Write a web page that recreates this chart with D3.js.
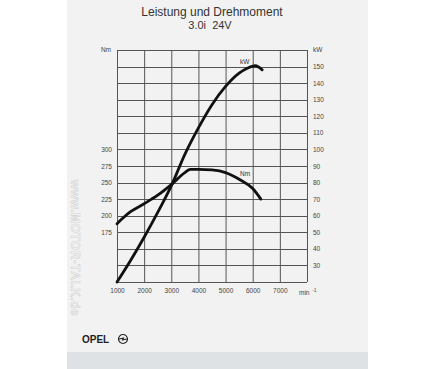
<!DOCTYPE html>
<html>
<head>
<meta charset="utf-8">
<script src="https://cdn.jsdelivr.net/npm/d3@7"></script>
<style>
  body { margin: 0; background: #fff; }
  svg { display: block; }
  text { font-family: "Liberation Sans", Arial, sans-serif; }
</style>
</head>
<body>
<svg id="chart"></svg>
<script>
// data
const torqueRpm = [1000, 1500, 2000, 2500, 3000, 3500, 3700, 4000, 4500, 5000, 5500, 6000, 6300];
const torqueNm  = [188, 206, 218, 231, 247, 265, 270, 270, 269, 265, 255, 241, 225];
const powerRpm  = [1000, 1500, 2000, 2500, 3000, 3500, 4000, 4500, 5000, 5500, 5800, 6100, 6350];
const powerKw   = [20, 33, 47, 62, 78, 97, 113, 127, 138, 146, 149, 150.5, 148];
const rpmTicks  = [1000, 2000, 3000, 4000, 5000, 6000, 7000];
const nmTicks   = [175, 200, 225, 250, 275, 300];
const kwTicks   = [30, 40, 50, 60, 70, 80, 90, 100, 110, 120, 130, 140, 150];

const W = 439, H = 369;
const svg = d3.select('#chart').attr('width', W).attr('height', H);

// scanned page
svg.append('rect').attr('x', 67).attr('y', 0).attr('width', 301).attr('height', 353).attr('fill', '#f2f2f2');
svg.append('rect').attr('x', 67).attr('y', 352).attr('width', 301).attr('height', 17).attr('fill', '#dfe2e5');

const x = d3.scaleLinear().domain([1000, 8000]).range([117, 307]);
const yKw = d3.scaleLinear().domain([20, 160]).range([282, 50]);
const yNm = d3.scaleLinear().domain([100, 450]).range([282, 50]);

// watermark
svg.append('text')
    .attr('transform', 'translate(71,180) rotate(90)')
    .attr('font-size', 12).attr('font-weight', 'bold')
    .attr('fill', '#f2f2f2').attr('stroke', '#d6d6d6').attr('stroke-width', 0.6)
    .attr('letter-spacing', 0.5)
    .text('www.MOTOR-TALK.de');

// title
svg.append('text').attr('x', 212).attr('y', 16).attr('text-anchor', 'middle')
    .attr('font-size', 12).attr('fill', '#333').text('Leistung und Drehmoment');
svg.append('text').attr('x', 210).attr('y', 29).attr('text-anchor', 'middle')
    .attr('font-size', 11).attr('fill', '#333').attr('xml:space', 'preserve').text('3.0i  24V');

// grid
const grid = svg.append('g').attr('stroke', '#555').attr('stroke-width', 1);
grid.selectAll('.v').data(d3.range(1000, 8001, 1000)).join('line')
    .attr('x1', d => x(d) + 0.5).attr('x2', d => x(d) + 0.5)
    .attr('y1', yKw(160)).attr('y2', yKw(20));
grid.selectAll('.h').data(d3.range(20, 161, 10)).join('line')
    .attr('y1', d => Math.round(yKw(d)) + 0.5).attr('y2', d => Math.round(yKw(d)) + 0.5)
    .attr('x1', x(1000)).attr('x2', x(8000));

// axes
const tickFont = g => g.call(s => s.select('.domain').remove())
    .call(s => s.selectAll('line').remove())
    .call(s => s.selectAll('text').attr('fill', '#444').attr('font-size', 6.5)
        .attr('font-family', '"Liberation Sans", Arial, sans-serif'));

svg.append('g').attr('transform', 'translate(0,288)')
    .call(d3.axisBottom(x).tickValues(rpmTicks).tickFormat(d3.format('d')).tickSize(0).tickPadding(0))
    .call(tickFont);
svg.append('g').attr('transform', 'translate(112,0)')
    .call(d3.axisLeft(yNm).tickValues(nmTicks).tickSize(0).tickPadding(0))
    .call(tickFont);
svg.append('g').attr('transform', 'translate(313,0)')
    .call(d3.axisRight(yKw).tickValues(kwTicks).tickSize(0).tickPadding(0))
    .call(tickFont);

// unit labels
svg.append('text').attr('x', 111).attr('y', 52).attr('text-anchor', 'end')
    .attr('font-size', 6.5).attr('fill', '#444').text('Nm');
svg.append('text').attr('x', 313).attr('y', 52)
    .attr('font-size', 6.5).attr('fill', '#444').text('kW');
const unit = svg.append('text').attr('x', 299).attr('y', 295).attr('font-size', 6.5).attr('fill', '#444');
unit.append('tspan').text('min');
unit.append('tspan').attr('dx', 3).attr('dy', -3).attr('font-size', 4.5).text('-1');

// curves
const line = d3.line().curve(d3.curveMonotoneX);
svg.append('path')
    .attr('d', line(torqueRpm.map((r, i) => [x(r), yNm(torqueNm[i])])))
    .attr('fill', 'none').attr('stroke', '#111').attr('stroke-width', 2.8)
    .attr('stroke-linecap', 'round').attr('stroke-linejoin', 'round');
svg.append('path')
    .attr('d', line(powerRpm.map((r, i) => [x(r), yKw(powerKw[i])])))
    .attr('fill', 'none').attr('stroke', '#111').attr('stroke-width', 2.8)
    .attr('stroke-linecap', 'round').attr('stroke-linejoin', 'round');

svg.append('text').attr('x', 240).attr('y', 64).attr('font-size', 6.5).attr('fill', '#333').text('kW');
svg.append('text').attr('x', 240).attr('y', 176).attr('font-size', 6.5).attr('fill', '#333').text('Nm');

// logo
svg.append('text').attr('x', 82).attr('y', 343).attr('font-size', 10).attr('font-weight', 'bold')
    .attr('fill', '#222').text('OPEL');
const logo = svg.append('g').attr('transform', 'translate(123,339)')
    .attr('fill', 'none').attr('stroke', '#222').attr('stroke-width', 1.1);
logo.append('circle').attr('r', 4.5);
logo.append('path').attr('d', 'M-5,0.3 L0.5,-1 L-0.5,1 L5,-0.3');
</script>
</body>
</html>
